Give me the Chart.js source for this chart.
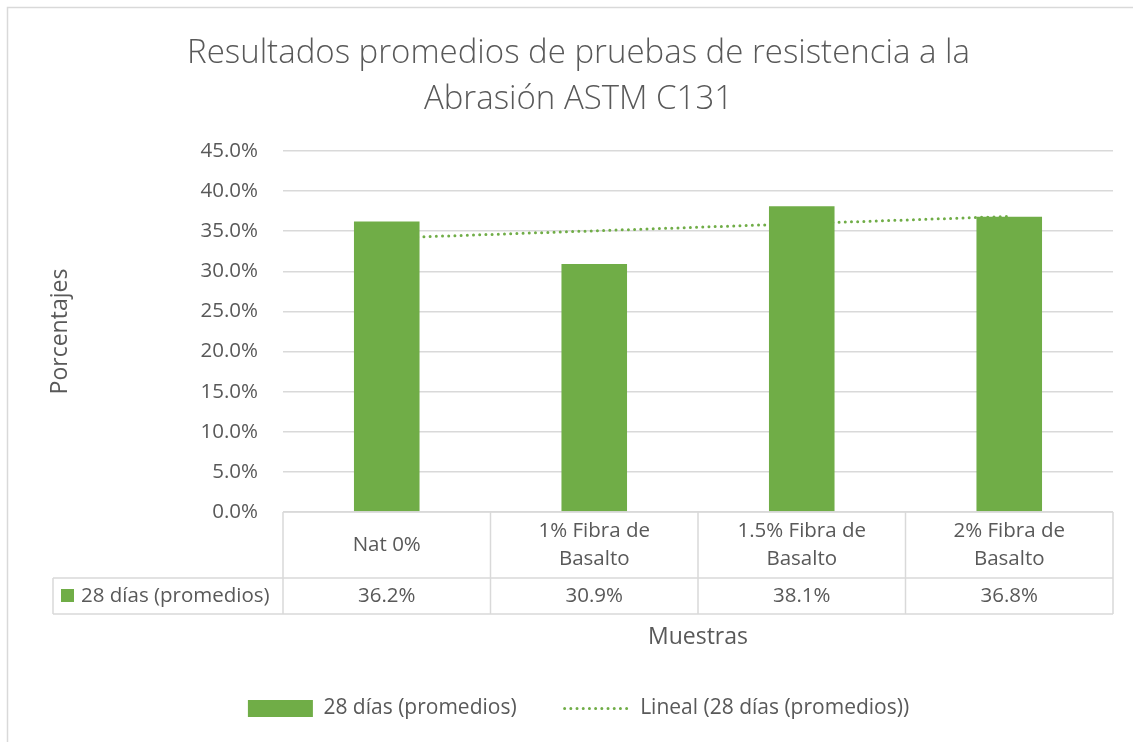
<!DOCTYPE html>
<html>
<head>
<meta charset="utf-8">
<script src="https://cdn.jsdelivr.net/npm/chart.js@4.4.0/dist/chart.umd.min.js"></script>
<style>
  html, body { margin: 0; padding: 0; background: #ffffff; }
  #wrap { width: 1133px; height: 742px; position: relative; }
</style>
</head>
<body>
<div id="wrap"><canvas id="c" width="1133" height="742"></canvas></div>
<script>
// ---- data ----
const titleLines = ['Resultados promedios de pruebas de resistencia a la', 'Abrasión ASTM C131'];
const categories = [['Nat 0%'], ['1% Fibra de', 'Basalto'], ['1.5% Fibra de', 'Basalto'], ['2% Fibra de', 'Basalto']];
const seriesName = '28 días (promedios)';
const trendName = 'Lineal (28 días (promedios))';
const values = [36.2, 30.9, 38.1, 36.8];
const yTicks = [0, 5, 10, 15, 20, 25, 30, 35, 40, 45];
const yTitle = 'Porcentajes';
const xTitle = 'Muestras';

// linear trendline (least squares on the series, as the spreadsheet does)
function linearTrend(v) {
  const n = v.length;
  let sx = 0, sy = 0, sxy = 0, sxx = 0;
  v.forEach((y, i) => { const x = i + 1; sx += x; sy += y; sxy += x * y; sxx += x * x; });
  const b = (n * sxy - sx * sy) / (n * sxx - sx * sx);
  const a = (sy - b * sx) / n;
  return v.map((_, i) => a + b * (i + 1));
}
const trend = linearTrend(values);

const GREEN = '#70AD47';
const TXT = '#595959';
const GRID = '#d9d9d9';
const FONT = "'Open Sans', 'Noto Sans', sans-serif";

const bgPlugin = {
  id: 'bg',
  beforeDraw(chart) {
    const ctx = chart.ctx;
    ctx.save();
    ctx.fillStyle = '#ffffff';
    ctx.fillRect(0, 0, chart.width, chart.height);
    ctx.strokeStyle = GRID;
    ctx.lineWidth = 1.5;
    ctx.strokeRect(7.5, 7.5, chart.width + 10, chart.height + 10);
    ctx.restore();
  }
};

const tablePlugin = {
  id: 'dataTable',
  afterDraw(chart) {
    const ctx = chart.ctx;
    const xs = chart.scales.x;
    const area = chart.chartArea;
    const n = categories.length;
    const half = (xs.getPixelForValue(1) - xs.getPixelForValue(0)) / 2;
    const top = area.bottom;
    const r1 = top + 66;
    const r2 = r1 + 36;
    const leftCell = 53;
    ctx.save();
    ctx.strokeStyle = GRID;
    ctx.lineWidth = 1.5;
    ctx.beginPath();
    ctx.moveTo(area.left, top); ctx.lineTo(area.right, top);
    ctx.moveTo(leftCell, r1); ctx.lineTo(area.right, r1);
    ctx.moveTo(leftCell, r2); ctx.lineTo(area.right, r2);
    ctx.moveTo(leftCell, r1); ctx.lineTo(leftCell, r2);
    for (let i = 0; i <= n; i++) {
      const x = i < n ? xs.getPixelForValue(i) - half : xs.getPixelForValue(n - 1) + half;
      ctx.moveTo(x, top); ctx.lineTo(x, r2);
    }
    ctx.stroke();

    ctx.fillStyle = TXT;
    ctx.font = '20.5px ' + FONT;
    ctx.textAlign = 'center';
    ctx.textBaseline = 'middle';
    const lh = 28;
    for (let i = 0; i < n; i++) {
      const cx = xs.getPixelForValue(i);
      const lines = categories[i];
      const cy = (top + r1) / 2;
      lines.forEach((t, k) => {
        ctx.fillText(t, cx, cy + (k - (lines.length - 1) / 2) * lh);
      });
      ctx.fillText(values[i].toFixed(1) + '%', cx, (r1 + r2) / 2);
    }
    ctx.fillStyle = GREEN;
    ctx.fillRect(61, (r1 + r2) / 2 - 7, 13, 13);
    ctx.fillStyle = TXT;
    ctx.textAlign = 'left';
    ctx.fillText(seriesName, 81, (r1 + r2) / 2);
    ctx.restore();
  }
};

new Chart(document.getElementById('c'), {
  data: {
    labels: categories.map(c => c.join(' ')),
    datasets: [
      {
        type: 'bar',
        label: seriesName,
        data: values,
        backgroundColor: GREEN,
        borderWidth: 0,
        categoryPercentage: 1.0,
        barPercentage: 0.316,
        order: 0
      },
      {
        type: 'line',
        label: trendName,
        data: trend,
        borderColor: GREEN,
        backgroundColor: GREEN,
        borderWidth: 3,
        borderDash: [0, 6.2],
        borderCapStyle: 'round',
        pointRadius: 0,
        fill: false,
        tension: 0,
        order: 1
      }
    ]
  },
  options: {
    responsive: false,
    animation: false,
    devicePixelRatio: 1,
    layout: { padding: { left: 44, right: 20, top: 0, bottom: 13 } },
    plugins: {
      tooltip: { enabled: false },
      title: {
        display: true,
        text: titleLines,
        color: TXT,
        font: { family: FONT, size: 33, weight: '300', lineHeight: 1.394 },
        padding: { top: 31, bottom: 28 }
      },
      legend: {
        display: true,
        position: 'bottom',
        labels: {
          color: TXT,
          font: { family: FONT, size: 21 },
          usePointStyle: true,
          pointStyleWidth: 65,
          boxHeight: 17,
          padding: 48,
          generateLabels(chart) {
            return [
              { text: seriesName, fillStyle: GREEN, strokeStyle: GREEN, lineWidth: 0, pointStyle: 'rect', datasetIndex: 0, fontColor: TXT },
              { text: trendName, fillStyle: 'rgba(0,0,0,0)', strokeStyle: GREEN, lineWidth: 3, lineDash: [0, 6.2], lineCap: 'round', pointStyle: 'line', datasetIndex: 1, fontColor: TXT }
            ];
          }
        }
      }
    },
    scales: {
      x: {
        type: 'category',
        offset: true,
        grid: { display: false, drawTicks: false },
        border: { display: false },
        ticks: { display: false },
        title: {
          display: true,
          text: xTitle,
          color: TXT,
          font: { family: FONT, size: 23, lineHeight: 1.0 },
          padding: { top: 0, bottom: 1.5 }
        },
        afterFit(scale) { scale.height = 138; }
      },
      y: {
        min: 0,
        max: 45,
        afterBuildTicks(scale) { scale.ticks = yTicks.map(v => ({ value: v })); },
        grid: { color: GRID, lineWidth: 1.5, drawTicks: false },
        border: { display: false },
        ticks: {
          color: TXT,
          font: { family: FONT, size: 20.5 },
          padding: 25,
          callback: v => Number(v).toFixed(1) + '%'
        },
        title: {
          display: true,
          text: yTitle,
          color: TXT,
          font: { family: FONT, size: 23, lineHeight: 1.2 },
          padding: { top: 2.2, bottom: 0 }
        },
        afterFit(scale) { scale.width = 239; }
      }
    }
  },
  plugins: [bgPlugin, tablePlugin]
});
</script>
</body>
</html>
